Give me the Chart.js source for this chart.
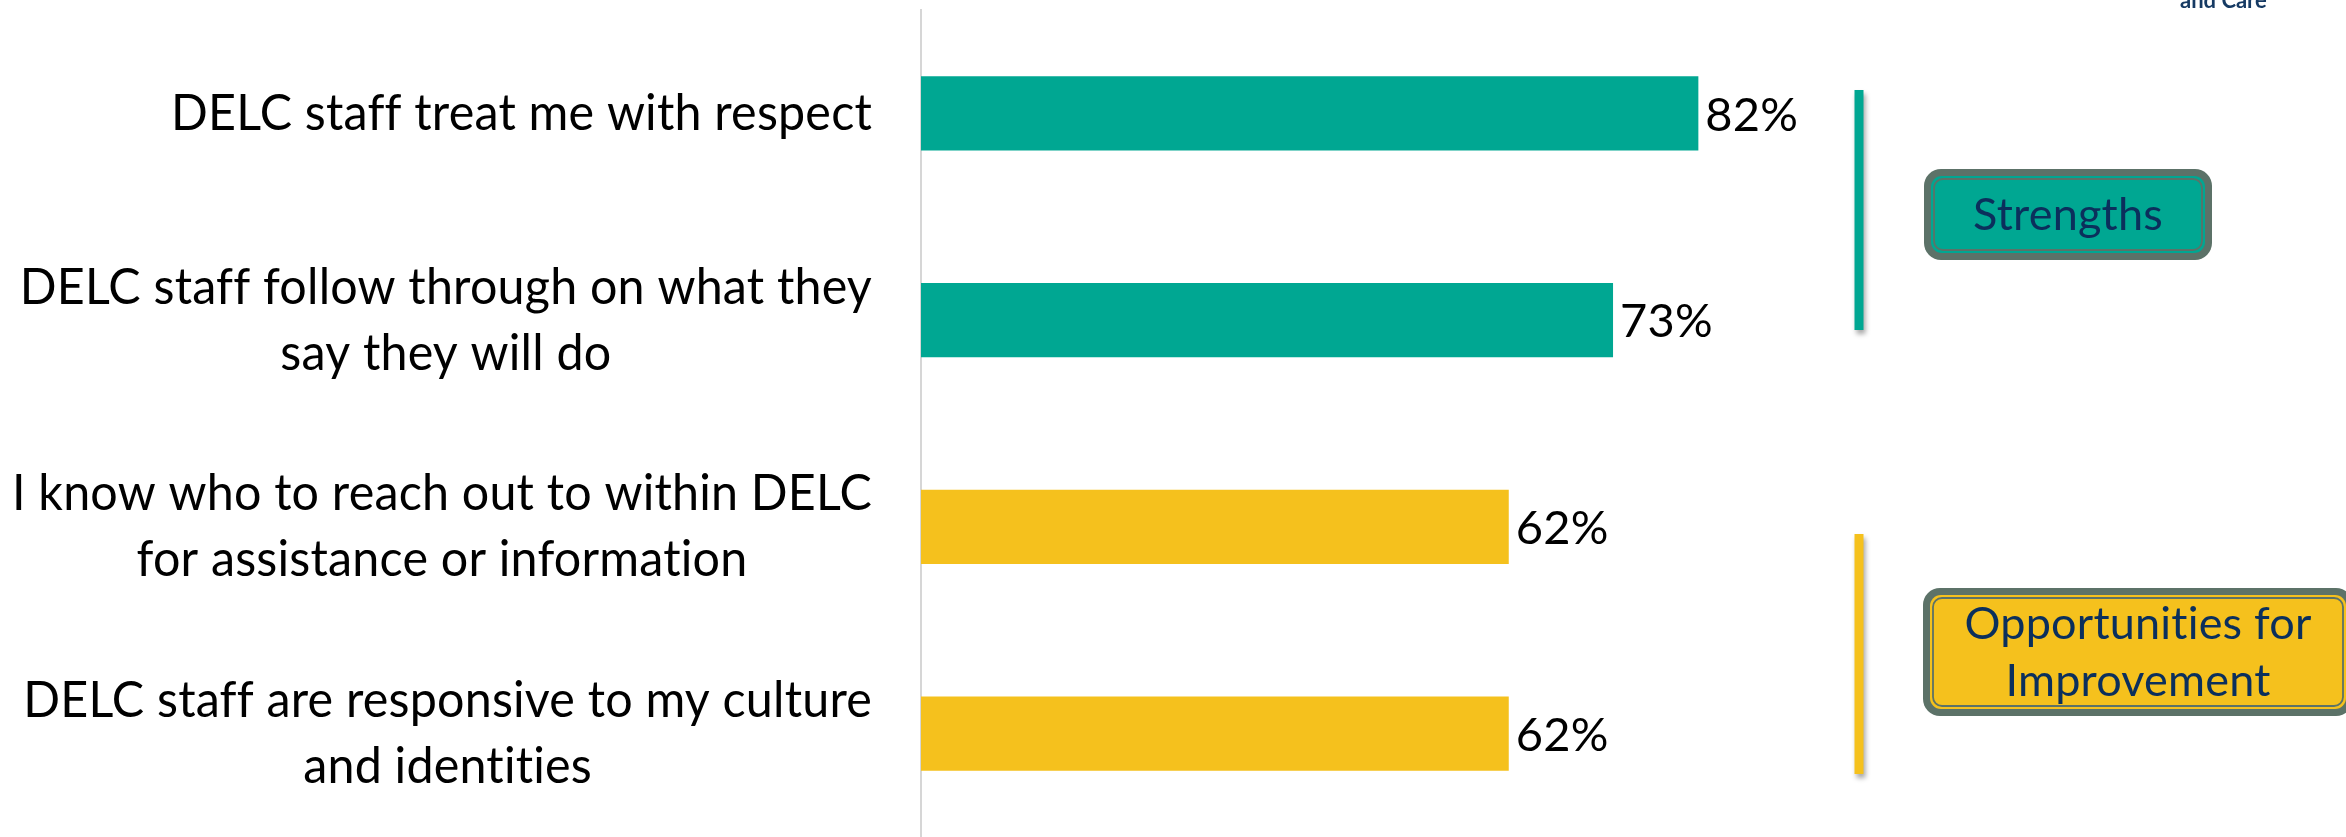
<!DOCTYPE html>
<html>
<head>
<meta charset="utf-8">
<script src="https://cdn.jsdelivr.net/npm/chart.js@4.4.1/dist/chart.umd.min.js"></script>
<style>
  html, body { margin: 0; padding: 0; background: #fff; }
  canvas { display: block; }
</style>
</head>
<body>
<canvas id="surveyChart" width="2346" height="837"></canvas>
<script>
// chart data
const categories = [
  ['DELC staff treat me with respect'],
  ['DELC staff follow through on what they', 'say they will do'],
  ['I know who to reach out to within DELC', 'for assistance or information'],
  ['DELC staff are responsive to my culture', 'and identities']
];
const agreePercent = [82, 73, 62, 62];
const groupOfCategory = [0, 0, 1, 1];
const groupNames = [['Strengths'], ['Opportunities for', 'Improvement']];
const groupColors = ['#00a792', '#f5c11d'];

const FONT = 'Lato, "Open Sans", sans-serif';
const NAVY = '#0b2f5c';
const FRAME = '#5c7268';
const LABEL_BLOCK_WIDTH = 860; // widest category line in the slide

// where the side notes sit (decoration only)
const notes = [
  { line: { x: 1859, top: 90, bottom: 330 }, box: { x: 1924, y: 169, w: 288, h: 91 } },
  { line: { x: 1859, top: 534, bottom: 774 }, box: { x: 1923, y: 588, w: 430, h: 128 } }
];

function roundRect(ctx, x, y, w, h, r) {
  ctx.beginPath();
  ctx.moveTo(x + r, y);
  ctx.arcTo(x + w, y, x + w, y + h, r);
  ctx.arcTo(x + w, y + h, x, y + h, r);
  ctx.arcTo(x, y + h, x, y, r);
  ctx.arcTo(x, y, x + w, y, r);
  ctx.closePath();
}

// text squeezed sideways a little, to get close to the narrow slide font
function squeezedText(ctx, text, x, y, sx) {
  ctx.save();
  ctx.translate(x, y);
  ctx.scale(sx, 1);
  ctx.fillText(text, 0, 0);
  ctx.restore();
}

const overlayPlugin = {
  id: 'overlay',
  afterDraw(chart) {
    const { ctx, chartArea } = chart;
    const yScale = chart.scales.y;
    ctx.save();
    ctx.letterSpacing = '0.2px';

    // category labels: block right aligned, lines centred in the block
    ctx.font = '51px ' + FONT;
    ctx.fillStyle = '#000';
    ctx.textAlign = 'center';
    ctx.textBaseline = 'middle';
    const widest = Math.max(...categories.flat().map(l => ctx.measureText(l).width));
    const sx = LABEL_BLOCK_WIDTH / widest;
    categories.forEach((lines, i) => {
      const cy = yScale.getPixelForTick(i);
      const w = Math.max(...lines.map(l => ctx.measureText(l).width)) * sx;
      const cx = chartArea.left - 49 - w / 2;
      lines.forEach((line, k) => {
        squeezedText(ctx, line, cx, cy + (k - (lines.length - 1) / 2) * 66, sx);
      });
    });

    // value labels
    ctx.font = '47px ' + FONT;
    ctx.textAlign = 'left';
    chart.getDatasetMeta(0).data.forEach((bar, i) => {
      ctx.fillText(agreePercent[i] + '%', bar.x + 7, bar.y + 2);
    });

    // side brackets and group boxes
    notes.forEach((n, g) => {
      ctx.save();
      ctx.shadowColor = 'rgba(0,0,0,0.35)';
      ctx.shadowBlur = 5;
      ctx.shadowOffsetX = 2;
      ctx.shadowOffsetY = 4;
      ctx.fillStyle = groupColors[g];
      ctx.fillRect(n.line.x - 4.5, n.line.top, 9, n.line.bottom - n.line.top);
      ctx.restore();

      const b = n.box;
      roundRect(ctx, b.x, b.y, b.w, b.h, 17);
      ctx.fillStyle = FRAME;
      ctx.fill();
      roundRect(ctx, b.x + 7, b.y + 7, b.w - 14, b.h - 14, 11);
      ctx.fillStyle = groupColors[g];
      ctx.fill();
      roundRect(ctx, b.x + 10, b.y + 10, b.w - 20, b.h - 20, 9);
      ctx.strokeStyle = FRAME;
      ctx.lineWidth = 1.8;
      ctx.stroke();

      ctx.fillStyle = NAVY;
      ctx.font = '45px ' + FONT;
      ctx.textAlign = 'center';
      ctx.textBaseline = 'middle';
      const lines = groupNames[g];
      lines.forEach((line, k) => {
        ctx.fillText(line, b.x + b.w / 2, b.y + b.h / 2 + 1 + (k - (lines.length - 1) / 2) * 57);
      });
    });

    // clipped logo text at the top right
    ctx.letterSpacing = '0px';
    ctx.fillStyle = '#163a63';
    ctx.font = 'bold 22px ' + FONT;
    ctx.textAlign = 'left';
    ctx.textBaseline = 'alphabetic';
    ctx.fillText('and Care', 2180, 8);

    ctx.restore();
  }
};

const ctx = document.getElementById('surveyChart').getContext('2d');
new Chart(ctx, {
  type: 'bar',
  data: {
    labels: categories,
    datasets: [{
      data: agreePercent,
      backgroundColor: groupOfCategory.map(g => groupColors[g]),
      barPercentage: 0.36,
      categoryPercentage: 1.0
    }]
  },
  options: {
    indexAxis: 'y',
    responsive: false,
    animation: false,
    layout: { padding: { top: 10, right: 477, bottom: 0, left: 0 } },
    plugins: {
      legend: { display: false },
      tooltip: { enabled: false }
    },
    scales: {
      x: {
        display: false,
        min: 0,
        max: 100
      },
      y: {
        afterFit(scale) { scale.width = 921; },
        grid: { display: false, drawTicks: false },
        border: { display: true, color: '#d6d6d6', width: 2 },
        ticks: { display: false }
      }
    }
  },
  plugins: [overlayPlugin]
});
</script>
</body>
</html>
